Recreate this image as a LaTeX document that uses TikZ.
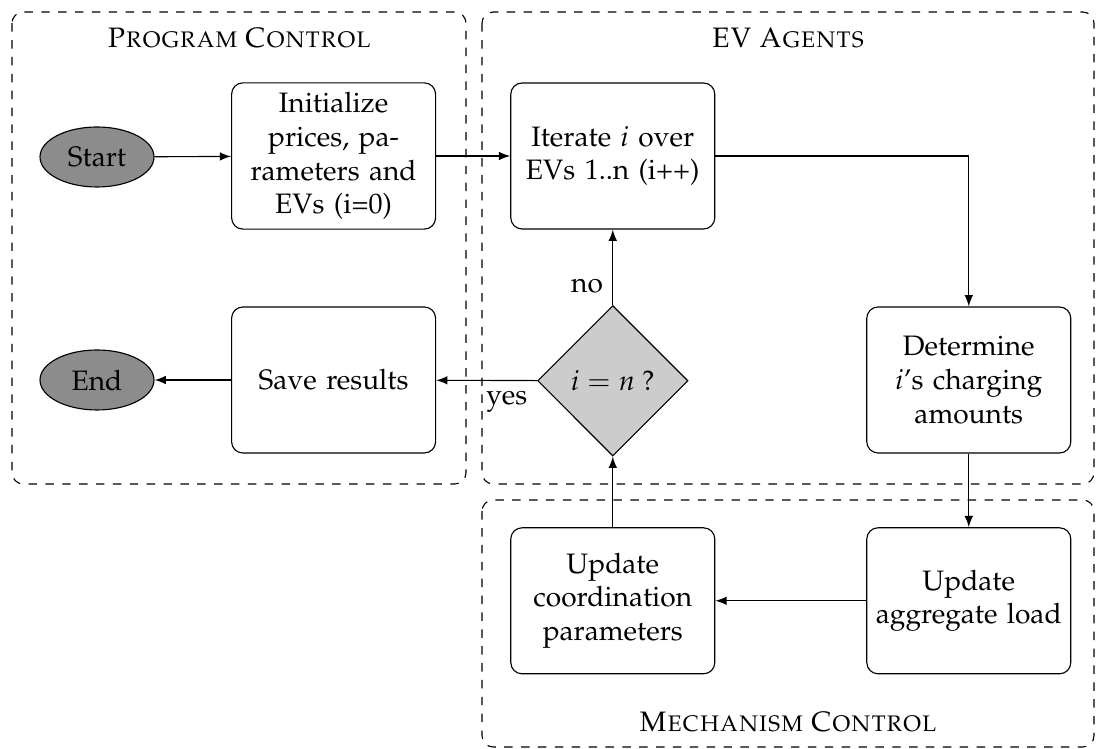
\documentclass[tikz,border=0pt]{standalone}
\usepackage[T1]{fontenc}
\usepackage{mathpazo}
\usepackage{amsmath}
\usepackage{tikz}
\usetikzlibrary{shapes.geometric}

\begin{document}
\begin{tikzpicture}[block/.style = {draw = black, rectangle, rounded corners = 4pt, align = center, text width = 2.4cm, inner xsep = .075cm, minimum height = 1.825cm},
    terminal/.style = {draw = black, ellipse, fill = black!45, minimum width = 1.425cm, minimum height = .75cm, inner sep = 0pt},
    decision/.style = {draw = black, diamond, fill = black!20, minimum width = 1.88cm, minimum height = 1.88cm, inner sep = 0pt},
    region/.style = {draw = black, dashed, rounded corners = 4pt},
    flow/.style = {->, >=latex}]
    \useasboundingbox (0,0) rectangle (13.7,-9.3625);
    % the three regions
    \draw[region] (.15,-.15) rectangle (5.825,-6.05);
    \draw[region] (6.025,-.15) rectangle (13.675,-6.05);
    \draw[region] (6.025,-6.25) rectangle (13.675,-9.3375);
    \node (progtitle) at (2.99,-.475) {\textsc{Program Control}};
    \node (evtitle) at (9.85,-.475) {\textsc{EV Agents}};
    \node (mechtitle) at (9.85,-9.025) {\textsc{Mechanism Control}};

    \node[terminal] (start) at (1.2125,-1.9625) {Start};
    \node[block] (init) at (4.17,-1.95) {Initialize\\prices, pa-\\rameters and\\EVs (i=0)};
    \node[block] (iter) at (7.66,-1.95) {Iterate $i$ over\\EVs 1..n (i++)};
    \node[block] (det) at (12.11,-4.75) {Determine\\$i$'s charging\\amounts};
    \node[decision] (cond) at (7.66,-4.76) {$i = n$ ?};
    \node[block] (save) at (4.17,-4.75) {Save results};
    \node[terminal] (end) at (1.2125,-4.75) {End};
    \node[block] (coord) at (7.66,-7.51) {Update\\coordination\\parameters};
    \node[block] (aggr) at (12.11,-7.51) {Update\\aggregate load};

    \draw[flow] (start) -- (init);
    \draw[flow] (init) -- (iter);
    \draw[flow] (iter.east) -| (det.north);
    \draw[flow] (det) -- (aggr);
    \draw[flow] (aggr) -- (coord);
    \draw[flow] (coord) -- (cond);
    \draw[flow] (cond) -- node[left, pos = .25] {no} (iter);
    \draw[flow] (cond) -- node[below left, pos = 0] {yes} (save);
    \draw[flow] (save) -- (end);
\end{tikzpicture}
\end{document}
